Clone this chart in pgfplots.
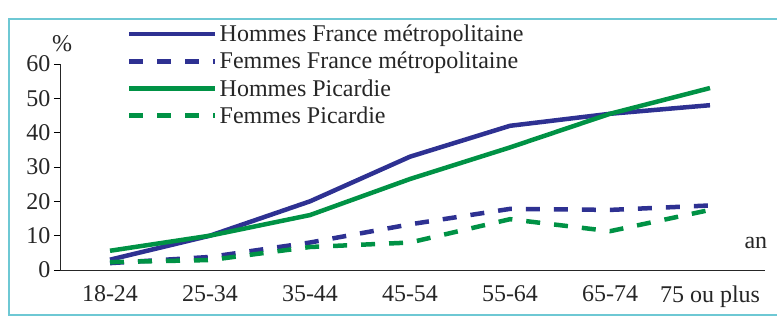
\documentclass[border=0pt]{standalone}
\usepackage{pgfplots}
\pgfplotsset{compat=1.18}
\usepackage{fontspec}
\setmainfont{Liberation Serif}
\definecolor{cblue}{HTML}{2E3192}
\definecolor{cgreen}{HTML}{009245}
\definecolor{frame}{RGB}{110,200,212}
\begin{document}
\begin{tikzpicture}[x=1pt,y=1pt]
\useasboundingbox (0,0) rectangle (777,318);
\draw[frame, line width=1.6pt] (9,3) rectangle (790,299);
\begin{axis}[
  at={(60pt,48pt)}, anchor=south west,
  scale only axis, width=705pt, height=206pt,
  xmin=-0.5, xmax=6.55, ymin=0, ymax=60,
  axis x line=bottom, axis y line=left,
  axis line style={-, line width=0.8pt, black!85},
  xtick={0,1,2,3,4,5,6},
  xticklabels={18-24,25-34,35-44,45-54,55-64,65-74,75 ou plus},
  x tick style={draw=none},
  xticklabel style={yshift=-6pt},
  ytick={0,10,20,30,40,50,60},
  y tick style={black, line width=0.8pt},
  tick align=outside, major tick length=6pt,
  tick label style={font=\fontsize{24}{28}\selectfont, text=black!85},
  /pgf/number format/assume math mode=true,
  clip=false,
  legend cell align=left,
  legend style={at={(rel axis cs:0.095,1.2)}, anchor=north west, draw=none, fill=none,
    font=\fontsize{24}{26}\selectfont, text=black!85, row sep=5pt, inner sep=0pt,
    nodes={inner sep=2pt}},
  legend image code/.code={\draw[#1, line width=4.5pt] (0pt,0pt) -- (86pt,0pt);},
  every axis plot/.append style={line width=4.5pt},
]
\addplot[cblue] coordinates {(0,3) (1,10) (2,20) (3,33) (4,42) (5,45.5) (6,48)};
\addlegendentry{Hommes France métropolitaine}
\addplot[cblue, dash pattern=on 14pt off 14pt] coordinates {(0,2) (1,3.8) (2,8) (3,13.3) (4,17.8) (5,17.5) (6,18.8)};
\addlegendentry{Femmes France métropolitaine}
\addplot[cgreen] coordinates {(0,5.6) (1,10) (2,16) (3,26.5) (4,35.7) (5,45.5) (6,53)};
\addlegendentry{Hommes Picardie}
\addplot[cgreen, dash pattern=on 14pt off 14pt] coordinates {(0,2.3) (1,2.9) (2,6.7) (3,8) (4,14.8) (5,11.3) (6,17.5)};
\addlegendentry{Femmes Picardie}
\node[font=\fontsize{24}{28}\selectfont, text=black!85] at (rel axis cs:0.003,1.1) {\%};
\node[font=\fontsize{24}{28}\selectfont, text=black!85] at (rel axis cs:0.987,0.13) {an};
\end{axis}
\end{tikzpicture}
\end{document}
